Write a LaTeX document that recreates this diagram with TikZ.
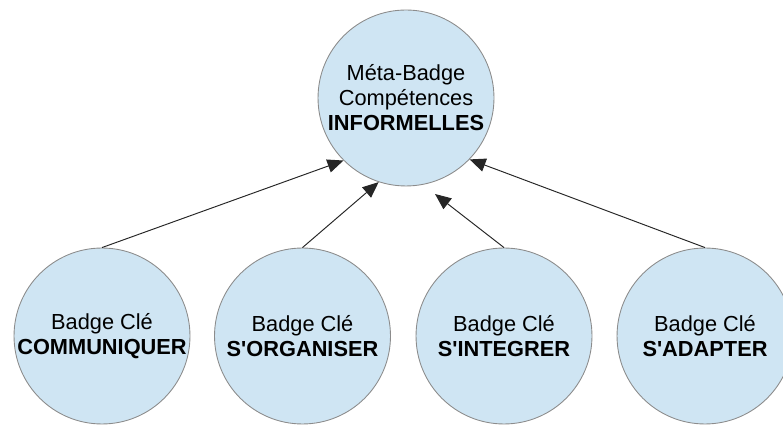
\documentclass[tikz,border=0pt]{standalone}
\usepackage{fontspec}
\setmainfont{Liberation Sans}
\usepackage{xcolor}
\usepackage{tikz}
\usetikzlibrary{
  arrows.meta,
  positioning
}
\definecolor{badge}{RGB}{207,229,243}

\begin{document}
\begin{tikzpicture}[
  x=0.02cm,y=0.02cm,
  n/.style={circle,draw=black!45,line width=0.5pt,fill=badge,minimum size=3.52cm,inner sep=0pt,align=center,
    font=\fontsize{12.4}{14.2}\selectfont},
  a/.style={-{Triangle[length=3.2mm,width=2.7mm]},line width=0.55pt,draw=black!85}
]
\clip (0,0) rectangle (783,425);
\node[n] (meta) at (406,327) {Méta-Badge\\Compétences\\\textbf{INFORMELLES}};
\node[n] (comm) at (102,89) {Badge Clé\\\textbf{COMMUNIQUER}};
\node[n] (org) at (302.5,89) {Badge Clé\\\textbf{S\textquotesingle ORGANISER}};
\node[n] (integ) at (504,89) {Badge Clé\\\textbf{S\textquotesingle INTEGRER}};
\node[n] (adapt) at (705,89) {Badge Clé\\\textbf{S\textquotesingle ADAPTER}};
\coordinate (gap) at (435,231);
\draw[a] (comm.north) -- (meta.225);
\draw[a] (org.north) -- (meta.252);
\draw[a] (integ.north) -- (gap);
\draw[a] (adapt.north) -- (meta.316);
\end{tikzpicture}
\end{document}
